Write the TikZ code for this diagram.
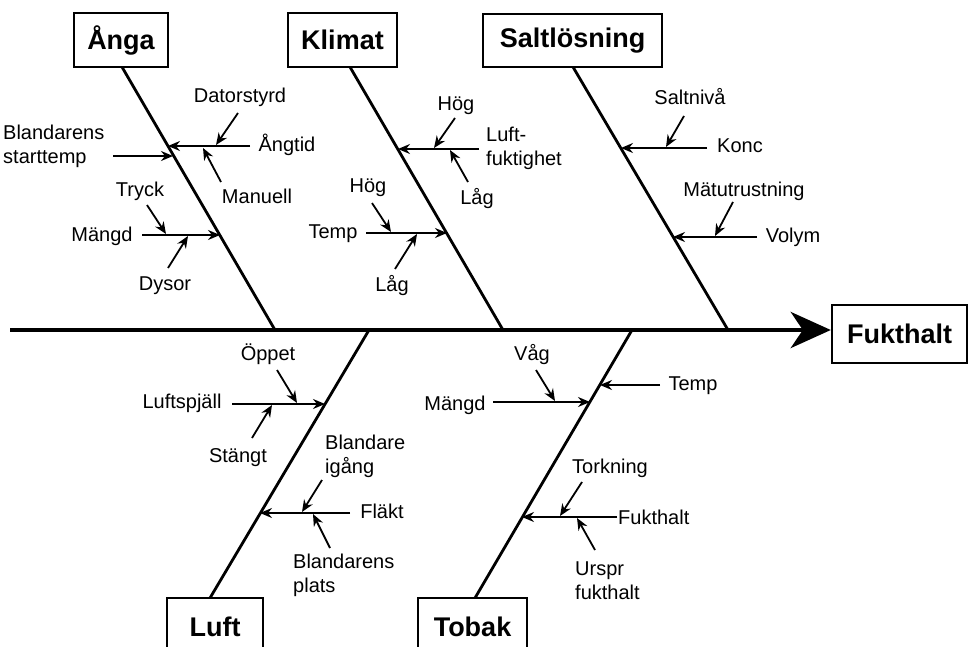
\documentclass[tikz,border=0pt]{standalone}
\usepackage{fontspec}
\setmainfont{Liberation Sans}
\usetikzlibrary{arrows.meta}
\begin{document}
\begin{tikzpicture}[x=1pt,y=-1pt,
  titlebox/.style={draw,line width=2.4pt,font=\fontsize{27}{30}\selectfont\bfseries,inner sep=0pt},
  lbl/.style={font=\fontsize{20}{24}\selectfont,inner sep=0pt,text height=14.5pt,text depth=4.5pt},
  lbltwo/.style={font=\fontsize{20}{24}\selectfont,inner sep=0pt,align=left,anchor=west},
  bone/.style={line width=2.8pt},
  spine/.style={line width=4.5pt,-{Stealth[length=40pt,width=36pt,inset=12pt]}},
  sub/.style={line width=1.8pt,-{Stealth[length=12pt,width=10pt,inset=4pt]}},
]
\useasboundingbox (0,0) rectangle (969,647);
\clip (0,0) rectangle (969,647);

% title boxes
\node[titlebox,minimum width=94pt,minimum height=54pt] (anga) at (121,40) {Ånga};
\node[titlebox,minimum width=109pt,minimum height=54pt] (klimat) at (342.5,40) {Klimat};
\node[titlebox,minimum width=179pt,minimum height=53pt] (salt) at (572.5,40.5) {Saltlösning};
\node[titlebox,minimum width=135pt,minimum height=58pt] (fukt) at (899.5,334) {Fukthalt};
\node[titlebox,minimum width=96pt,minimum height=58pt] (luft) at (215,627) {Luft};
\node[titlebox,minimum width=109pt,minimum height=58pt] (tobak) at (472.5,627) {Tobak};

% spine
\coordinate (s0) at (10,330);
\draw[spine] (s0) -- (fukt.west |- s0);

% bones
\coordinate (angaT) at (122,67);   \coordinate (angaB) at (275,330);
\coordinate (klimT) at (350,67);   \coordinate (klimB) at (503,330);
\coordinate (saltT) at (573,67);   \coordinate (saltB) at (728,330);
\coordinate (luftT) at (369,330);  \coordinate (luftB) at (210,598);
\coordinate (tobT) at (632,330);   \coordinate (tobB) at (475,598);
\draw[bone] (angaT) -- (angaB);
\draw[bone] (klimT) -- (klimB);
\draw[bone] (saltT) -- (saltB);
\draw[bone] (luftT) -- (luftB);
\draw[bone] (tobT) -- (tobB);

% ---------- Ånga ----------
\node[lbl] (datorstyrd) at (240,98) {Datorstyrd};
\node[lbl] (angtid) at (287,147) {Ångtid};
\node[lbl] (manuell) at (257,199) {Manuell};
\node[lbltwo] (blst) at (3,146) {Blandarens\\starttemp};
\node[lbl] (tryck) at (140,192) {Tryck};
\node[lbl] (mangdA) at (102,236) {Mängd};
\node[lbl] (dysor) at (165,285) {Dysor};

\coordinate (a1s) at (250,146); \coordinate (a1e) at (168,146);
\coordinate (a2s) at (113,156); \coordinate (a2e) at (173,156);
\coordinate (a3s) at (142,235); \coordinate (a3e) at (220,235);
\coordinate (a4s) at (238,113); \coordinate (a4e) at (216,145);
\coordinate (a5s) at (221,182); \coordinate (a5e) at (203,148);
\coordinate (a6s) at (147,205); \coordinate (a6e) at (166,234);
\coordinate (a7s) at (168,268); \coordinate (a7e) at (188,236);
\draw[sub] (a1s) -- (a1e);
\draw[sub] (a2s) -- (a2e);
\draw[sub] (a3s) -- (a3e);
\draw[sub] (a4s) -- (a4e);
\draw[sub] (a5s) -- (a5e);
\draw[sub] (a6s) -- (a6e);
\draw[sub] (a7s) -- (a7e);

% ---------- Klimat ----------
\node[lbl] (hogK1) at (456,106) {Hög};
\node[lbltwo] (luftf) at (486,148) {Luft-\\fuktighet};
\node[lbl] (lagK1) at (477,200) {Låg};
\node[lbl] (hogK2) at (368,188) {Hög};
\node[lbl] (tempK) at (333,233) {Temp};
\node[lbl] (lagK2) at (392,286) {Låg};

\coordinate (k1s) at (479,149); \coordinate (k1e) at (398,149);
\coordinate (k2s) at (455,118); \coordinate (k2e) at (434,148);
\coordinate (k3s) at (468,182); \coordinate (k3e) at (450,150);
\coordinate (k4s) at (366,233); \coordinate (k4e) at (447,233);
\coordinate (k5s) at (372,203); \coordinate (k5e) at (391,232);
\coordinate (k6s) at (395,269); \coordinate (k6e) at (417,234);
\draw[sub] (k1s) -- (k1e);
\draw[sub] (k2s) -- (k2e);
\draw[sub] (k3s) -- (k3e);
\draw[sub] (k4s) -- (k4e);
\draw[sub] (k5s) -- (k5e);
\draw[sub] (k6s) -- (k6e);

% ---------- Saltlösning ----------
\node[lbl] (saltniva) at (690,100) {Saltnivå};
\node[lbl] (konc) at (740,148) {Konc};
\node[lbl] (matutr) at (744,192) {Mätutrustning};
\node[lbl] (volym) at (793,237) {Volym};

\coordinate (m1s) at (707,148); \coordinate (m1e) at (621,148);
\coordinate (m2s) at (684,116); \coordinate (m2e) at (666,147);
\coordinate (m3s) at (757,237); \coordinate (m3e) at (673,237);
\coordinate (m4s) at (733,202); \coordinate (m4e) at (715,236);
\draw[sub] (m1s) -- (m1e);
\draw[sub] (m2s) -- (m2e);
\draw[sub] (m3s) -- (m3e);
\draw[sub] (m4s) -- (m4e);

% ---------- Luft ----------
\node[lbl] (oppet) at (268,355) {Öppet};
\node[lbl] (luftsp) at (182,403) {Luftspjäll};
\node[lbl] (stangt) at (238,457) {Stängt};
\node[lbltwo] (blig) at (325,456) {Blandare\\igång};
\node[lbl] (flakt) at (382,513) {Fläkt};
\node[lbltwo] (blpl) at (293,575) {Blandarens\\plats};

\coordinate (l1s) at (232,404); \coordinate (l1e) at (325,404);
\coordinate (l2s) at (277,370); \coordinate (l2e) at (297,403);
\coordinate (l3s) at (252,438); \coordinate (l3e) at (272,405);
\coordinate (l4s) at (350,513); \coordinate (l4e) at (260,513);
\coordinate (l5s) at (322,480); \coordinate (l5e) at (302,512);
\coordinate (l6s) at (330,548); \coordinate (l6e) at (313,514);
\draw[sub] (l1s) -- (l1e);
\draw[sub] (l2s) -- (l2e);
\draw[sub] (l3s) -- (l3e);
\draw[sub] (l4s) -- (l4e);
\draw[sub] (l5s) -- (l5e);
\draw[sub] (l6s) -- (l6e);

% ---------- Tobak ----------
\node[lbl] (vag) at (532,355) {Våg};
\node[lbl] (mangdT) at (455,405) {Mängd};
\node[lbl] (tempT) at (693,385) {Temp};
\node[lbl] (torkning) at (610,468) {Torkning};
\node[lbltwo] (fukthaltT) at (618,517) {Fukthalt};
\node[lbltwo] (urspr) at (575,581) {Urspr\\fukthalt};

\coordinate (t1s) at (493,402); \coordinate (t1e) at (590,402);
\coordinate (t2s) at (536,370); \coordinate (t2e) at (555,401);
\coordinate (t3s) at (660,385); \coordinate (t3e) at (600,385);
\coordinate (t4s) at (617,517); \coordinate (t4e) at (522,517);
\coordinate (t5s) at (582,482); \coordinate (t5e) at (560,516);
\coordinate (t6s) at (595,550); \coordinate (t6e) at (577,518);
\draw[sub] (t1s) -- (t1e);
\draw[sub] (t2s) -- (t2e);
\draw[sub] (t3s) -- (t3e);
\draw[sub] (t4s) -- (t4e);
\draw[sub] (t5s) -- (t5e);
\draw[sub] (t6s) -- (t6e);
\end{tikzpicture}
\end{document}
